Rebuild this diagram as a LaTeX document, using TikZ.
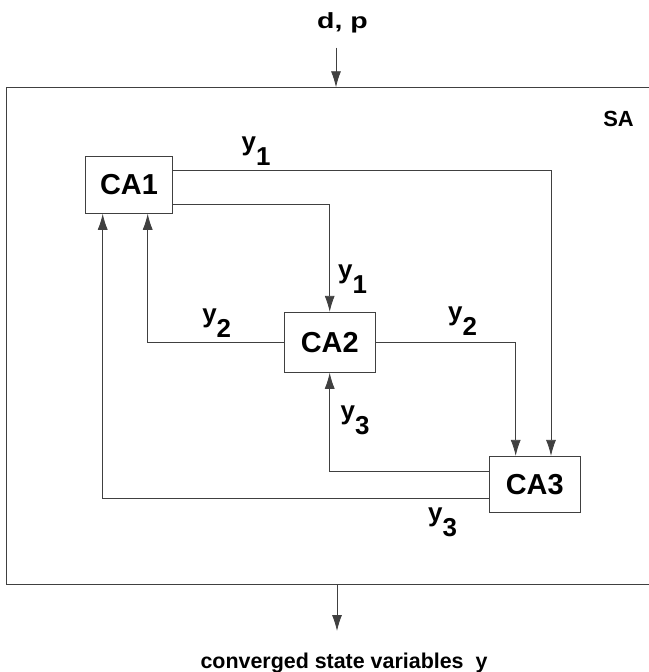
\documentclass[tikz,border=0pt]{standalone}
\usepackage{fontspec}
\setmainfont{Liberation Sans}
\usetikzlibrary{arrows.meta,positioning}

\tikzset{
  agentbox/.style={draw=black!75, line width=0.9bp, fill=white, inner sep=0pt,
    font=\fontsize{29}{29}\selectfont\bfseries},
  flow/.style={draw=black!75, line width=0.8bp, -{Latex[length=16bp,width=10bp]}},
  ylabel/.style={inner sep=0pt, font=\fontsize{26}{26}\selectfont\bfseries},
  plaintext/.style={inner sep=0pt, font=\fontsize{#1}{#1}\selectfont\bfseries},
}
\newcommand{\ysub}[1]{y\raisebox{-0.58em}{#1}}

\begin{document}
\begin{tikzpicture}[x=1bp,y=-1bp]
        \useasboundingbox (0,0) rectangle (649,672);

        % Draw the outer system box (cut off at the right)
        \draw[draw=black!75, line width=0.9bp] (649,87.3) -- (6,87.3) -- (6,584) -- (649,584);
        \node[plaintext=22] (sa) at (618.5,118.5) {SA};

        % Draw the three agent boxes
        \node[agentbox, minimum width=87.4bp, minimum height=56.6bp] (ca1) at (129,185) {CA1};
        \node[agentbox, minimum width=91.3bp, minimum height=60bp] (ca2) at (329.7,342.3) {CA2};
        \node[agentbox, minimum width=90.7bp, minimum height=55.7bp] (ca3) at (534.7,484.2) {CA3};

        % Input and output of the system
        \node[plaintext=22, anchor=base] (dp) at (342.5,28.3) {\scalebox{1.3}[1]{d, p}};
        \coordinate (din) at (336,47.7);
        \coordinate (sain) at (336,87.3);
        \draw[flow] (din) -- (sain);

        \coordinate (saout) at (337,584);
        \coordinate (yout) at (337,631);
        \draw[flow] (saout) -- (yout);
        \node[plaintext=21.5, anchor=base] (conv) at (344,668) {converged state variables\ \ y};

        % Couplings between the agents
        \draw[flow] ([yshift=14.3bp]ca1.east) -| ([xshift=16.3bp]ca3.north);
        \draw[flow] ([yshift=-19.7bp]ca1.east) -| (ca2.north);
        \draw[flow] (ca2.west) -| ([xshift=18.7bp]ca1.south);
        \draw[flow] (ca2.east) -| ([xshift=-19bp]ca3.north);
        \draw[flow] ([yshift=12.5bp]ca3.west) -| (ca2.south);
        \draw[flow] ([yshift=-14.1bp]ca3.west) -| ([xshift=-26.3bp]ca1.south);

        % Label the couplings
        \foreach \px/\py/\idx/\nm in {256/151/1/yonetop, 352.5/279/1/yonemid,
                                      216.7/323/2/ytwoleft, 462.5/321/2/ytworight,
                                      355/420/3/ythreeup, 442.5/522/3/ythreelow} {
            \node[ylabel] (\nm) at (\px,\py) {\ysub{\idx}};
        }

\end{tikzpicture}
\end{document}
